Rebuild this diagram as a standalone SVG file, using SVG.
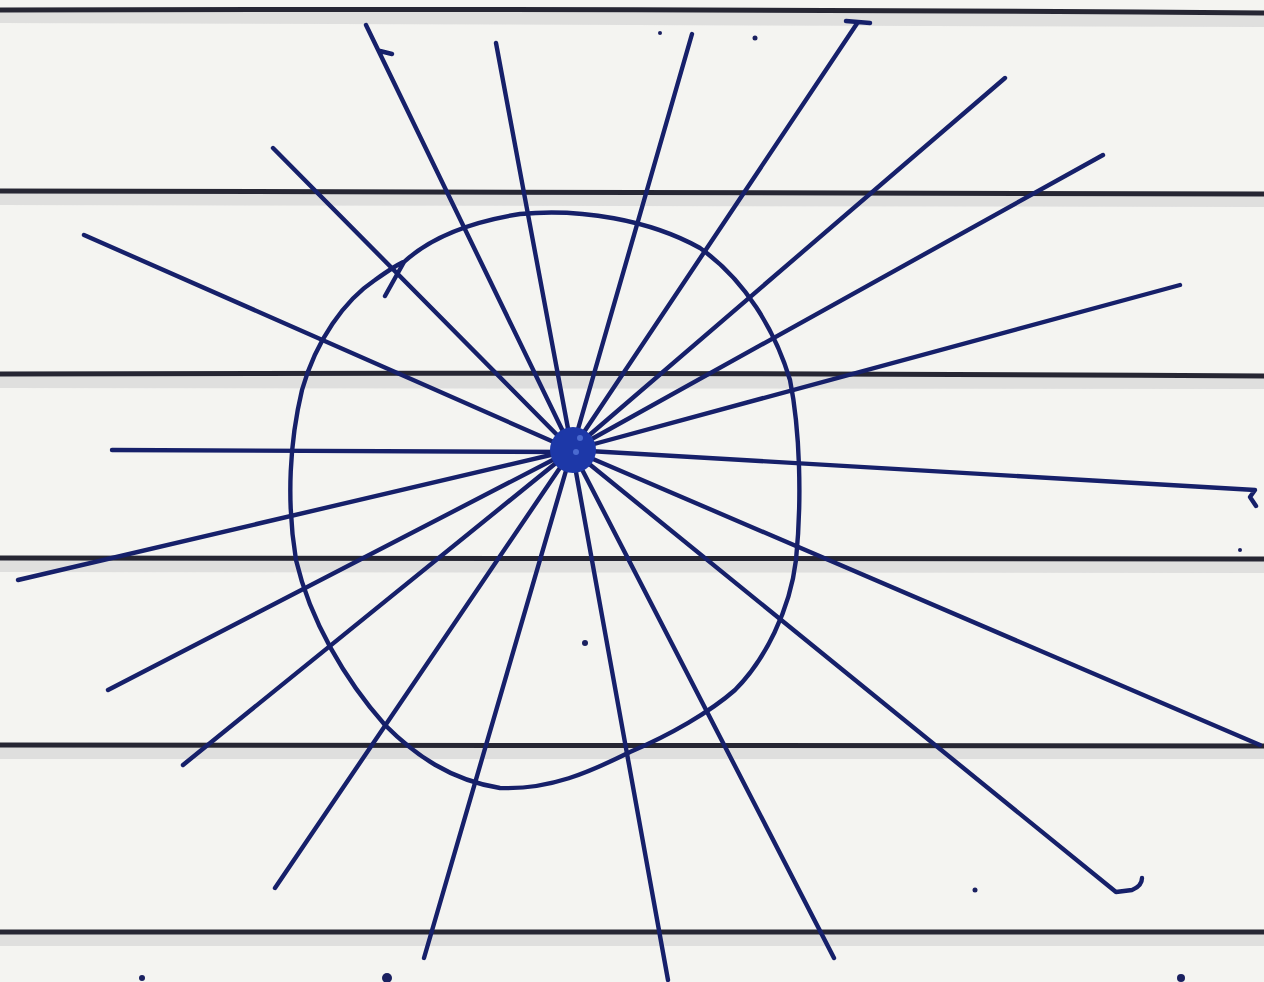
<svg xmlns="http://www.w3.org/2000/svg" width="1264" height="982" viewBox="0 0 1264 982">
<style>
.rule{fill:none;stroke:#262633;stroke-width:5;stroke-linecap:round}
.shade{fill:none;stroke:#c9c9cc;stroke-width:14;opacity:0.5}
.ray{fill:none;stroke:#16206a;stroke-width:4.4;stroke-linecap:round;stroke-linejoin:round}
.circ{fill:none;stroke:#16206a;stroke-width:4.4;stroke-linecap:round;stroke-linejoin:round}
</style>
<rect width="1264" height="982" fill="#f4f4f1"/>
<g id="paper">
<path class="shade" d="M0,16 L1264,20"/>
<path class="shade" d="M0,198 L1264,200"/>
<path class="shade" d="M0,381 L1264,382"/>
<path class="shade" d="M0,565 L1264,566"/>
<path class="shade" d="M0,752 L1264,752"/>
<path class="shade" d="M0,939 L1264,939"/>
<path class="rule" d="M0,10 Q630,8 1264,13"/>
<path class="rule" d="M0,191 Q630,190 1264,194"/>
<path class="rule" d="M0,374 Q630,372 1264,376"/>
<path class="rule" d="M0,558 Q630,556 1264,559"/>
<path class="rule" d="M0,745 Q630,744 1264,746"/>
<path class="rule" d="M0,932 Q630,930 1264,932"/>
</g>
<g id="circle">
<path class="circ" d="M385,296 L404,262 C430,238 470,222 520,214 C580,208 650,220 700,248 C745,280 775,330 790,380 C800,430 802,500 796,560 C790,610 765,660 735,690 C710,712 670,735 630,752 C590,772 550,790 500,788 C450,780 415,755 385,725 C345,680 310,620 296,560 C286,500 290,440 302,390 C316,340 345,300 375,280 C392,268 400,263 404,262"/>
</g>
<g id="rays">
<path class="ray" d="M572,450 L366,25 M380,51 L392,54"/>
<path class="ray" d="M572,450 L496,43"/>
<path class="ray" d="M572,450 L692,34"/>
<path class="ray" d="M572,450 L858,22 M846,21 L870,23"/>
<path class="ray" d="M572,450 L1005,78"/>
<path class="ray" d="M572,450 L1103,155"/>
<path class="ray" d="M572,450 L1180,285"/>
<path class="ray" d="M572,450 L1255,490 L1250,497 L1256,506"/>
<path class="ray" d="M572,450 L1260,745"/>
<path class="ray" d="M572,450 L1116,892 L1132,890 Q1142,886 1142,878"/>
<path class="ray" d="M572,450 L834,958"/>
<path class="ray" d="M572,450 L668,980"/>
<path class="ray" d="M572,450 L424,958"/>
<path class="ray" d="M572,450 L275,888"/>
<path class="ray" d="M572,450 L183,765"/>
<path class="ray" d="M572,450 L108,690"/>
<path class="ray" d="M572,450 L18,580"/>
<path class="ray" d="M572,452 L112,450"/>
<path class="ray" d="M572,450 L84,235"/>
<path class="ray" d="M572,450 L273,148"/>
</g>
<g id="center">
<circle cx="573" cy="450" r="23" fill="#1d38a8"/>
<circle cx="580" cy="438" r="3" fill="#4a6ad0"/>
<circle cx="576" cy="452" r="3" fill="#4a6ad0"/>
</g>
<g id="marks" fill="#1a2060">
<circle cx="585" cy="643" r="3"/>
<circle cx="755" cy="38" r="2.5"/>
<circle cx="660" cy="33" r="2"/>
<circle cx="142" cy="978" r="3"/>
<circle cx="387" cy="978" r="5"/>
<circle cx="1181" cy="978" r="4"/>
<circle cx="975" cy="890" r="2.5"/>
<circle cx="1240" cy="550" r="2"/>
</g>
</svg>
